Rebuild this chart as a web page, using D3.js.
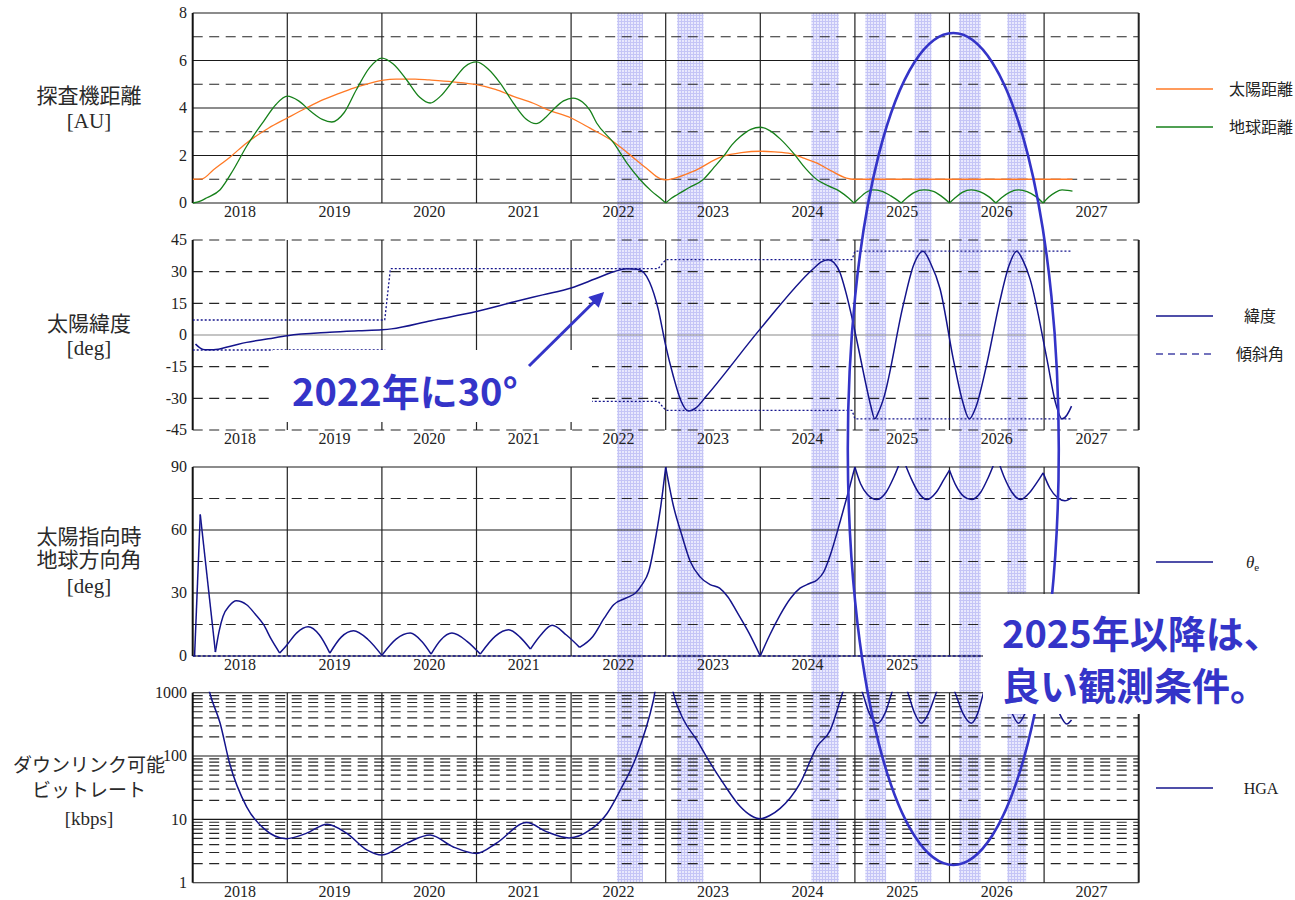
<!DOCTYPE html>
<html lang="ja">
<head>
<meta charset="utf-8">
<title>探査機の観測条件</title>
<script src="https://cdn.jsdelivr.net/npm/d3@7"></script>
<style>
  html, body { margin: 0; padding: 0; background: #fff; }
  svg { display: block; font-family: "Liberation Serif", "Noto Sans CJK JP", serif; }
</style>
</head>
<body>
<svg id="chart" width="1295" height="900"></svg>
<script>
// ---- data (year, value) ----
const yearLabels = [2018, 2019, 2020, 2021, 2022, 2023, 2024, 2025, 2026, 2027];

const distTicks = [0, 2, 4, 6, 8];
const distMinor = [1, 3, 5, 7];
const latTicks = [-45, -30, -15, 0, 15, 30, 45];
const angleTicks = [0, 30, 60, 90];
const angleMinor = [15, 45, 75];
const rateTicks = [1, 10, 100, 1000];

// light blue observation windows
const observationWindows = [
  [2022.485, 2022.76], [2023.12, 2023.40], [2024.54, 2024.83], [2025.11, 2025.33],
  [2025.63, 2025.81], [2026.10, 2026.33], [2026.61, 2026.81]
];

// 太陽距離 [AU]
const sunDistance = [
  [2018.0, 1.0], [2018.1, 1.02], [2018.22, 1.4], [2018.4, 1.95], [2018.57, 2.53], [2018.8, 3.15],
  [2019.0, 3.58], [2019.2, 4.0], [2019.38, 4.35], [2019.55, 4.62], [2019.7, 4.84], [2019.85, 5.02],
  [2020.0, 5.16], [2020.15, 5.22], [2020.35, 5.22], [2020.5, 5.18], [2020.75, 5.1], [2021.0, 4.98],
  [2021.2, 4.78], [2021.39, 4.49], [2021.6, 4.2], [2021.75, 3.93], [2022.0, 3.58], [2022.2, 3.15],
  [2022.44, 2.6], [2022.6, 2.1], [2022.8, 1.45], [2022.94, 1.03], [2023.0, 0.98], [2023.08, 1.03],
  [2023.29, 1.33], [2023.6, 1.96], [2023.8, 2.12], [2024.0, 2.18], [2024.15, 2.15], [2024.32, 2.08],
  [2024.45, 1.9], [2024.6, 1.68], [2024.75, 1.35], [2024.91, 1.05], [2024.98, 1.0], [2025.5, 1.0],
  [2026.5, 1.0], [2027.3, 1.0]
];

// 地球距離 [AU]
const earthDistance = [
  [2018.0, 0], [2018.08, 0.08], [2018.15, 0.22], [2018.29, 0.56], [2018.43, 1.4], [2018.57, 2.39],
  [2018.75, 3.44], [2018.88, 4.15], [2019.0, 4.5], [2019.12, 4.3], [2019.25, 3.85], [2019.37, 3.52],
  [2019.47, 3.41], [2019.6, 3.8], [2019.73, 4.77], [2019.87, 5.7], [2020.0, 6.1], [2020.12, 5.85],
  [2020.26, 5.19], [2020.4, 4.45], [2020.51, 4.21], [2020.62, 4.5], [2020.76, 5.19], [2020.88, 5.75],
  [2021.0, 5.94], [2021.12, 5.65], [2021.25, 5.05], [2021.39, 4.21], [2021.52, 3.55], [2021.63, 3.34],
  [2021.73, 3.6], [2021.81, 3.93], [2021.92, 4.3], [2022.02, 4.42], [2022.12, 4.25], [2022.2, 3.9],
  [2022.27, 3.37], [2022.45, 2.53], [2022.59, 1.68], [2022.73, 0.98], [2022.85, 0.5], [2022.94, 0.21],
  [2023.0, 0], [2023.06, 0.2], [2023.12, 0.35], [2023.25, 0.65], [2023.4, 1.0], [2023.5, 1.45],
  [2023.61, 1.96], [2023.7, 2.45], [2023.79, 2.8], [2023.9, 3.1], [2024.0, 3.19], [2024.1, 3.05],
  [2024.21, 2.7], [2024.35, 2.1], [2024.48, 1.45], [2024.6, 0.98], [2024.72, 0.72], [2024.84, 0.49],
  [2024.93, 0.22], [2024.99, 0], [2025.05, 0.22], [2025.12, 0.45], [2025.19, 0.55], [2025.28, 0.5],
  [2025.38, 0.3], [2025.49, 0], [2025.55, 0.22], [2025.63, 0.45], [2025.73, 0.55], [2025.82, 0.5],
  [2025.91, 0.3], [2026.0, 0], [2026.06, 0.22], [2026.14, 0.46], [2026.23, 0.55], [2026.32, 0.48],
  [2026.41, 0.28], [2026.49, 0], [2026.55, 0.22], [2026.64, 0.46], [2026.73, 0.55], [2026.82, 0.48],
  [2026.91, 0.28], [2026.99, 0], [2027.05, 0.25], [2027.12, 0.45], [2027.19, 0.55], [2027.25, 0.53],
  [2027.3, 0.5]
];
const earthDistanceCusps = [2023.0, 2024.99, 2025.49, 2026.0, 2026.49, 2026.99];

// 緯度 [deg]
const sunLatitude = [
  [2018.03, -4.3], [2018.08, -6.2], [2018.13, -7.0], [2018.22, -7.0], [2018.4, -5.3], [2018.57, -3.5],
  [2018.8, -1.8], [2019.0, -0.3], [2019.45, 1.3], [2019.75, 2.0], [2020.0, 2.5], [2020.1, 2.9],
  [2020.52, 6.8], [2021.0, 11.1], [2021.39, 15.6], [2021.7, 19.0], [2022.0, 22.3], [2022.25, 26.5],
  [2022.44, 29.8], [2022.59, 31.4], [2022.7, 31.2], [2022.77, 29.5], [2022.83, 25], [2022.92, 12.4],
  [2023.0, -5], [2023.08, -19.4], [2023.16, -31], [2023.24, -36], [2023.32, -34.5], [2023.43, -28.9],
  [2024.0, 2.9], [2024.56, 31.4], [2024.64, 34.5], [2024.72, 35.7], [2024.78, 34.2], [2024.84, 29.8],
  [2024.9, 21], [2024.98, 6], [2025.05, -9], [2025.12, -24.1], [2025.17, -34], [2025.21, -39.7],
  [2025.25, -36.5], [2025.3, -30.5], [2025.51, 14], [2025.62, 33], [2025.72, 39.7], [2025.8, 34],
  [2025.9, 21.9], [2026.04, -11.4], [2026.13, -30], [2026.21, -39.7], [2026.28, -34], [2026.39, -14.6],
  [2026.53, 15.6], [2026.63, 33], [2026.71, 39.7], [2026.78, 35], [2026.85, 26.7], [2027.03, -11.4],
  [2027.12, -32], [2027.19, -39.7], [2027.24, -38], [2027.29, -33.7]
];

// 傾斜角 [deg] (upper and lower envelope)
const inclinationUpper = [
  [2018.0, 7.1], [2020.03, 7.1], [2020.09, 31.4], [2022.92, 31.4], [2023.0, 35.7],
  [2024.97, 35.7], [2025.0, 39.7], [2027.3, 39.7]
];
const inclinationLower = [
  [2018.0, -7.1], [2020.03, -7.1], [2020.09, -31.4], [2022.92, -31.4], [2023.0, -35.7],
  [2024.97, -35.7], [2025.0, -39.7], [2027.3, -39.7]
];

// θe 太陽指向時地球方向角 [deg]
const earthAngle = [
  [2018.02, 0], [2018.08, 67.4], [2018.24, 1.9], [2018.28, 12], [2018.32, 18.8], [2018.39, 24],
  [2018.46, 26.3], [2018.57, 24.4], [2018.66, 20], [2018.75, 14.9], [2018.83, 8], [2018.92, 1.4],
  [2019.0, 5.5], [2019.1, 11], [2019.22, 13.9], [2019.34, 10], [2019.45, 1.4], [2019.57, 9],
  [2019.7, 12.0], [2019.85, 8], [2020.0, 0.3], [2020.15, 8], [2020.3, 10.9], [2020.42, 7],
  [2020.52, 0.9], [2020.62, 7.5], [2020.74, 10.9], [2020.9, 7], [2021.04, 0.9], [2021.2, 9.5],
  [2021.34, 12.5], [2021.46, 9], [2021.57, 3.3], [2021.68, 10], [2021.8, 14.6], [2021.95, 10],
  [2022.09, 4.1], [2022.23, 9.3], [2022.35, 18], [2022.45, 24.4], [2022.59, 27.8], [2022.68, 30],
  [2022.75, 34], [2022.82, 40.2], [2022.9, 58], [2022.95, 72], [2023.0, 90], [2023.08, 71.8],
  [2023.17, 57.6], [2023.26, 45], [2023.36, 37.8], [2023.47, 34], [2023.57, 32.3], [2023.66, 28],
  [2023.75, 21.2], [2023.88, 11], [2024.0, 0], [2024.1, 10], [2024.21, 19.6], [2024.32, 27.5],
  [2024.42, 32.3], [2024.52, 34.5], [2024.6, 36.2], [2024.67, 40], [2024.74, 48.1], [2024.85, 65],
  [2024.93, 78], [2025.0, 90], [2025.06, 82], [2025.13, 77], [2025.23, 74.5], [2025.33, 78],
  [2025.41, 85], [2025.5, 95], [2025.59, 85], [2025.67, 78], [2025.76, 74.5], [2025.86, 78],
  [2025.94, 84], [2026.0, 88.5], [2026.07, 81], [2026.15, 76], [2026.23, 74.5], [2026.33, 78],
  [2026.41, 85], [2026.5, 95], [2026.58, 85], [2026.66, 78], [2026.75, 74.5], [2026.85, 78],
  [2026.93, 83], [2026.99, 87.2], [2027.06, 80], [2027.14, 75.5], [2027.22, 73.9], [2027.29, 75.3]
];
const earthAngleCusps = [2018.08, 2018.24, 2018.92, 2019.45, 2020.0, 2020.52, 2021.04, 2021.57,
  2022.09, 2023.0, 2024.0, 2025.0, 2025.5, 2026.0, 2026.5, 2026.99];
const earthAngleBase = [[2018.0, 0], [2027.3, 0]];

// HGA ダウンリンク可能ビットレート [kbps]
const hgaRate = [
  [2018.12, 2500], [2018.18, 1000], [2018.29, 330], [2018.39, 77], [2018.57, 15.8], [2018.75, 7.2],
  [2018.99, 4.95], [2019.2, 6.0], [2019.42, 8.4], [2019.63, 6.0], [2019.84, 3.3], [2020.0, 2.74],
  [2020.26, 4.2], [2020.51, 5.66], [2020.75, 3.7], [2021.0, 2.9], [2021.21, 4.2], [2021.53, 8.9],
  [2021.74, 6.4], [2021.98, 5.1], [2022.2, 6.8], [2022.38, 12.4], [2022.52, 29], [2022.69, 98],
  [2022.87, 760], [2022.95, 3000], [2023.02, 3000], [2023.08, 1000], [2023.19, 370], [2023.33, 178],
  [2023.43, 98], [2023.61, 37], [2023.79, 15.8], [2023.9, 11.5], [2024.0, 10.2], [2024.1, 11.5],
  [2024.21, 14.9], [2024.42, 37], [2024.6, 141], [2024.74, 257], [2024.87, 1000], [2024.96, 2500],
  [2025.08, 1000], [2025.15, 480], [2025.24, 330], [2025.32, 480], [2025.39, 1000], [2025.47, 2200],
  [2025.56, 1000], [2025.63, 480], [2025.7, 330], [2025.78, 480], [2025.86, 1000], [2025.96, 2200],
  [2026.06, 1000], [2026.14, 480], [2026.23, 330], [2026.3, 480], [2026.36, 1000], [2026.46, 2200],
  [2026.58, 1000], [2026.66, 480], [2026.73, 330], [2026.8, 480], [2026.87, 1000], [2026.97, 2200],
  [2027.08, 1000], [2027.16, 480], [2027.24, 320], [2027.29, 370]
];

// ---- layout ----
const svg = d3.select("#chart");
const x = d3.scaleLinear().domain([2018, 2028]).range([192.7, 1138.7]);
const [x0, x1] = x.range();
const navy = "#14148c";
const accent = "#3434c8";

const defs = svg.append("defs");

// mesh fill for the observation windows
const mesh = defs.append("pattern")
  .attr("id", "mesh")
  .attr("width", 3)
  .attr("height", 3)
  .attr("patternUnits", "userSpaceOnUse");
mesh.append("rect").attr("width", 3).attr("height", 3).attr("fill", "#e9e9fd");
mesh.append("path")
  .attr("d", "M0,0.5H3M0.5,0V3")
  .attr("stroke", "#c5c5f6")
  .attr("stroke-width", 1);

defs.append("marker")
  .attr("id", "arrowhead")
  .attr("viewBox", "0 0 10 10")
  .attr("refX", 8)
  .attr("refY", 5)
  .attr("markerWidth", 6)
  .attr("markerHeight", 5)
  .attr("orient", "auto")
  .append("path")
  .attr("d", "M0,0L10,5L0,10Z")
  .attr("fill", accent);

// Step 1: observation windows behind everything
svg.append("g")
  .selectAll("rect")
  .data(observationWindows)
  .enter()
  .append("rect")
  .attr("x", (d) => x(d[0]))
  .attr("width", (d) => x(d[1]) - x(d[0]))
  .attr("y", 13)
  .attr("height", 869)
  .attr("fill", "url(#mesh)");

// Step 2: the four panels
const rateScale = d3.scaleLog().domain([1, 1000]).range([882.7, 692.7]);
const rateMinor = rateScale.ticks().filter((v) => !rateTicks.includes(v));

const panels = [
  {
    id: "dist", y: d3.scaleLinear().domain([0, 8]).range([203, 13]),
    solid: distTicks, dashed: distMinor, labels: distTicks, years: yearLabels,
    title: ["探査機距離", "[AU]"], titleY: [96, 121], titleSize: 21
  },
  {
    id: "lat", y: d3.scaleLinear().domain([-45, 45]).range([430, 240]),
    solid: [], zero: [0], dashed: latTicks.filter((v) => v !== 0), labels: latTicks, years: yearLabels,
    title: ["太陽緯度", "[deg]"], titleY: [324, 348], titleSize: 21
  },
  {
    // the last two year labels sit under the note box in the original
    id: "angle", y: d3.scaleLinear().domain([0, 90]).range([656, 467]),
    solid: angleTicks, dashed: angleMinor, labels: angleTicks, years: yearLabels.slice(0, 8),
    title: ["太陽指向時", "地球方向角", "[deg]"], titleY: [537, 560, 586], titleSize: 21
  },
  {
    id: "rate", y: rateScale,
    solid: rateTicks, dashed: rateMinor, labels: rateTicks, years: yearLabels,
    title: ["ダウンリンク可能", "ビットレート", "[kbps]"], titleY: [765, 790, 818], titleSize: 19
  }
];

panels.forEach((p) => {
  const top = p.y.range()[1];
  const bottom = p.y.range()[0];
  const g = svg.append("g").attr("class", "panel-" + p.id);

  defs.append("clipPath")
    .attr("id", "clip-" + p.id)
    .append("rect")
    .attr("x", x0)
    .attr("y", top - 1)
    .attr("width", x1 - x0)
    .attr("height", bottom - top + 2);

  // dashed grid
  g.selectAll(".dash")
    .data(p.dashed)
    .enter()
    .append("line")
    .attr("x1", x0).attr("x2", x1)
    .attr("y1", (d) => p.y(d)).attr("y2", (d) => p.y(d))
    .attr("stroke", "#262626")
    .attr("stroke-width", 1.2)
    .attr("stroke-dasharray", "10,6.5");

  // solid grid
  g.selectAll(".solid")
    .data(p.solid)
    .enter()
    .append("line")
    .attr("x1", x0).attr("x2", x1)
    .attr("y1", (d) => p.y(d)).attr("y2", (d) => p.y(d))
    .attr("stroke", "#1a1a1a")
    .attr("stroke-width", 1.1);

  g.selectAll(".zero")
    .data(p.zero || [])
    .enter()
    .append("line")
    .attr("x1", x0).attr("x2", x1)
    .attr("y1", (d) => p.y(d)).attr("y2", (d) => p.y(d))
    .attr("stroke", "#8a8a8a")
    .attr("stroke-width", 1.1);

  // year boundaries
  g.selectAll(".year")
    .data(yearLabels.slice(1))
    .enter()
    .append("line")
    .attr("x1", (d) => x(d)).attr("x2", (d) => x(d))
    .attr("y1", top).attr("y2", bottom)
    .attr("stroke", "#222")
    .attr("stroke-width", 1.2);

  // left and right spines
  g.append("line")
    .attr("x1", x0).attr("x2", x0).attr("y1", top).attr("y2", bottom)
    .attr("stroke", "#111").attr("stroke-width", 2);
  g.append("line")
    .attr("x1", x1).attr("x2", x1).attr("y1", top).attr("y2", bottom)
    .attr("stroke", "#222").attr("stroke-width", 2);

  // y tick labels
  g.selectAll(".ylab")
    .data(p.labels)
    .enter()
    .append("text")
    .attr("x", 187)
    .attr("y", (d) => p.y(d))
    .attr("dy", "0.34em")
    .attr("text-anchor", "end")
    .attr("font-size", 16)
    .attr("fill", "#222")
    .text((d) => d);

  // year labels
  g.selectAll(".xlab")
    .data(p.years)
    .enter()
    .append("text")
    .attr("x", (d) => x(d + 0.5))
    .attr("y", bottom + 14)
    .attr("text-anchor", "middle")
    .attr("font-size", 16)
    .attr("fill", "#222")
    .text((d) => d);

  // panel title
  g.selectAll(".title")
    .data(p.title)
    .enter()
    .append("text")
    .attr("x", 89)
    .attr("y", (d, i) => p.titleY[i])
    .attr("dy", "0.35em")
    .attr("text-anchor", "middle")
    .attr("font-size", p.titleSize)
    .attr("fill", "#2a2a2a")
    .text((d) => d);

  p.plot = svg.append("g").attr("clip-path", "url(#clip-" + p.id + ")");
});

// split a series at cusp years so each arc keeps its sharp corner
function splitAt(data, cusps) {
  const segs = [[]];
  data.forEach((d) => {
    segs[segs.length - 1].push(d);
    if (cusps.includes(d[0])) segs.push([d]);
  });
  return segs.filter((s) => s.length > 1);
}

function drawSeries(p, data, opts) {
  const line = d3.line()
    .x((d) => x(d[0]))
    .y((d) => p.y(d[1]))
    .curve(opts.curve || d3.curveMonotoneX);
  p.plot.selectAll(null)
    .data(splitAt(data, opts.cusps || []))
    .enter()
    .append("path")
    .attr("d", line)
    .attr("fill", "none")
    .attr("stroke", opts.color)
    .attr("stroke-width", opts.width || 1.3)
    .attr("stroke-dasharray", opts.dash || null)
    .attr("stroke-linejoin", "round");
}

const [pDist, pLat, pAngle, pRate] = panels;

// Step 3: curves
drawSeries(pDist, sunDistance, { color: "#ff7a26", width: 1.3 });
drawSeries(pDist, earthDistance, { color: "#16801a", width: 1.3, cusps: earthDistanceCusps });

drawSeries(pLat, inclinationUpper, { color: navy, width: 1.3, dash: "2,2", curve: d3.curveLinear });
drawSeries(pLat, inclinationLower, { color: navy, width: 1.3, dash: "2,2", curve: d3.curveLinear });
drawSeries(pLat, sunLatitude, { color: navy, width: 1.5 });

drawSeries(pAngle, earthAngleBase, { color: navy, width: 1.4, dash: "3,2", curve: d3.curveLinear });
drawSeries(pAngle, earthAngle, { color: navy, width: 1.5, cusps: earthAngleCusps });

drawSeries(pRate, hgaRate, { color: navy, width: 1.5 });

// Step 4: legends
const legendItems = [
  { y: 89, label: "太陽距離", color: "#ff7a26", anchor: "start", lx: 1229 },
  { y: 127, label: "地球距離", color: "#16801a", anchor: "start", lx: 1229 },
  { y: 316, label: "緯度", color: navy, anchor: "middle", lx: 1260 },
  { y: 354, label: "傾斜角", color: "#4545a8", dash: "7,5", anchor: "middle", lx: 1260 },
  { y: 788, label: "HGA", color: navy, anchor: "middle", lx: 1261 }
];
const legend = svg.append("g");
legend.selectAll("line")
  .data(legendItems.concat([{ y: 562, color: navy }]))
  .enter()
  .append("line")
  .attr("x1", 1156).attr("x2", 1213)
  .attr("y1", (d) => d.y).attr("y2", (d) => d.y)
  .attr("stroke", (d) => d.color)
  .attr("stroke-width", 1.5)
  .attr("stroke-dasharray", (d) => d.dash || null);
legend.selectAll("text")
  .data(legendItems)
  .enter()
  .append("text")
  .attr("x", (d) => d.lx)
  .attr("y", (d) => d.y)
  .attr("dy", "0.36em")
  .attr("text-anchor", (d) => d.anchor)
  .attr("font-size", 16)
  .attr("fill", "#222")
  .text((d) => d.label);
const theta = legend.append("text")
  .attr("x", 1246).attr("y", 562).attr("dy", "0.36em")
  .attr("font-size", 17).attr("fill", "#222");
theta.append("tspan").attr("font-style", "italic").text("θ");
theta.append("tspan").attr("font-size", 11).attr("dy", 3).text("e");

// Step 5: hand-drawn style annotations
const notes = svg.append("g");
notes.append("ellipse")
  .attr("cx", x(2026.04))
  .attr("cy", 449)
  .attr("rx", 105.5)
  .attr("ry", 416)
  .attr("fill", "none")
  .attr("stroke", accent)
  .attr("stroke-width", 2.6);

notes.append("rect")
  .attr("x", 273).attr("y", 350).attr("width", 319).attr("height", 72)
  .attr("fill", "#fff");
notes.append("rect")
  .attr("x", 983).attr("y", 594).attr("width", 312).attr("height", 120)
  .attr("fill", "#fff");

const noteFont = '"Noto Sans CJK JP", "Noto Sans", sans-serif';
notes.append("text")
  .attr("x", 292).attr("y", 406)
  .attr("font-family", noteFont)
  .attr("font-weight", 700)
  .attr("font-size", 38)
  .attr("fill", accent)
  .text("2022年に30°");
notes.selectAll(".note2")
  .data(["2025年以降は、", "良い観測条件。"])
  .enter()
  .append("text")
  .attr("x", 1002)
  .attr("y", (d, i) => 648 + i * 52)
  .attr("font-family", noteFont)
  .attr("font-weight", 700)
  .attr("font-size", 38)
  .attr("fill", accent)
  .text((d) => d);

notes.append("line")
  .attr("x1", 529).attr("y1", 366)
  .attr("x2", 602).attr("y2", 294)
  .attr("stroke", accent)
  .attr("stroke-width", 3)
  .attr("marker-end", "url(#arrowhead)");
</script>
</body>
</html>
